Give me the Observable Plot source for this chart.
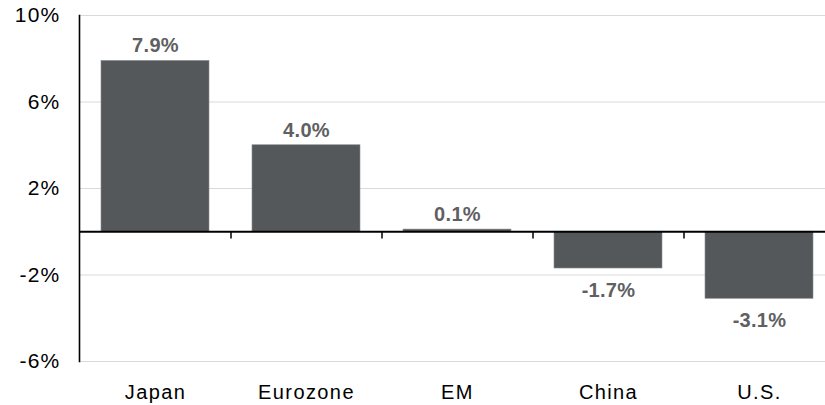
<!DOCTYPE html>
<html>
<head>
<meta charset="utf-8">
<script src="https://cdn.jsdelivr.net/npm/d3@7"></script>
<script src="https://cdn.jsdelivr.net/npm/@observablehq/plot@0.6"></script>
<style>
  html, body { margin: 0; padding: 0; background: #fff; }
  #chart svg { display: block; overflow: visible; }
  #chart svg g[aria-label="y-axis tick label"] text { font-size: 21px; letter-spacing: 1.2px; }
  #chart svg g[aria-label="x-axis tick label"] text { font-size: 20px; letter-spacing: 1.4px; }
  #chart svg g.vlabel text { font-size: 20px; letter-spacing: 0.3px; font-weight: bold; }
</style>
</head>
<body>
<div id="chart"></div>
<script>
const categories = ["Japan", "Eurozone", "EM", "China", "U.S."];
const values = [7.9, 4.0, 0.1, -1.7, -3.1];
const yTicks = [10, 6, 2, -2, -6];

const data = categories.map((c, i) => ({category: c, value: values[i]}));
const fmt = d => d.toFixed(1) + "%";

const chart = Plot.plot({
  width: 825,
  height: 405,
  marginLeft: 79,
  marginRight: -9,
  marginTop: 15,
  marginBottom: 44,
  style: {fontFamily: "Liberation Sans, Arial, sans-serif", fontSize: "20px", background: "#fff", overflow: "visible"},
  x: {domain: categories, paddingInner: 0.285, paddingOuter: 0.1425, label: null},
  y: {domain: [-6, 10], label: null},
  marks: [
    Plot.ruleY(yTicks, {stroke: "#d9d9d9", strokeWidth: 1}),
    Plot.barY(data, {x: "category", y: "value", fill: "#55585a", stroke: "#8a8c8e", strokeWidth: 0.6}),
    Plot.ruleY([0], {stroke: "#000", strokeWidth: 2}),
    Plot.ruleX(categories.slice(1), {x: d => d, y1: 0, y2: -0.33, dx: -75.5, stroke: "#000", strokeWidth: 1.5}),
    Plot.frame({anchor: "left", stroke: "#000", strokeWidth: 1.6}),
    Plot.text(data.filter(d => d.value >= 0), {x: "category", y: "value", text: d => fmt(d.value), dy: -15, fill: "#5f6062", fontWeight: "bold", fontSize: 20, className: "vlabel"}),
    Plot.text(data.filter(d => d.value < 0), {x: "category", y: "value", text: d => fmt(d.value), dy: 22, fill: "#5f6062", fontWeight: "bold", fontSize: 20, className: "vlabel"}),
    Plot.axisY({ticks: yTicks, tickFormat: d => d + "%", tickSize: 0, tickPadding: 19, fontSize: 21, fill: "#000", label: null}),
    Plot.axisX({tickSize: 0, tickPadding: 23, fontSize: 20, fill: "#000", label: null})
  ]
});
document.getElementById("chart").appendChild(chart);
</script>
</body>
</html>
